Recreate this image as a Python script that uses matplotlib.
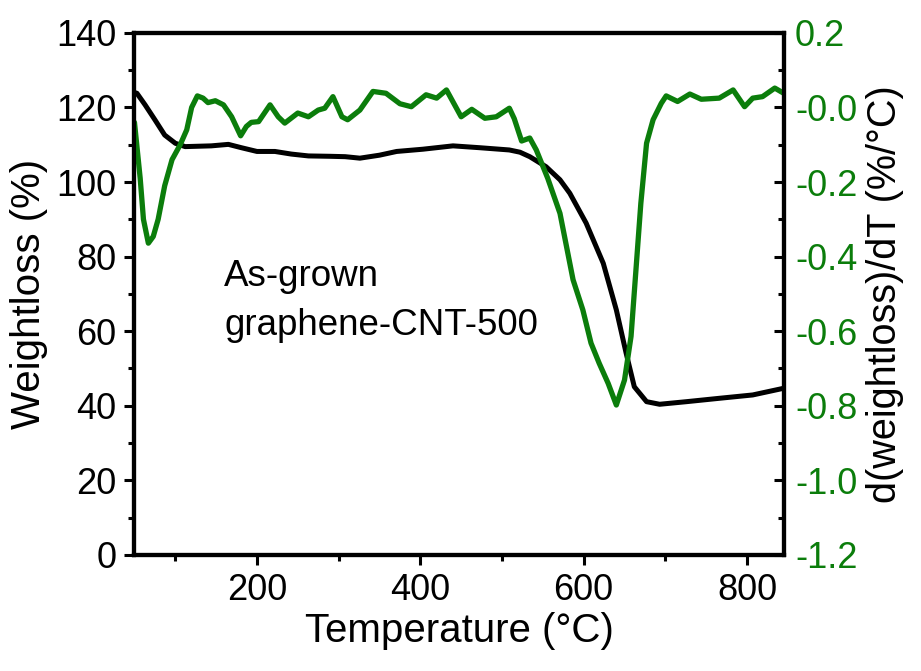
import numpy as np
import matplotlib
matplotlib.use('Agg')
import matplotlib.pyplot as plt
from matplotlib.ticker import MultipleLocator

plt.rcParams['font.family'] = ['Liberation Sans', 'DejaVu Sans']
plt.rcParams['axes.unicode_minus'] = False

# weight loss curve (left axis)
temp_w = [50, 53, 63, 75, 87, 100, 112, 144, 165, 181, 200, 222, 242, 263, 290, 308, 326,
          350, 371, 403, 440, 473, 509, 522, 534, 554, 571, 583, 603, 624, 640, 652, 662,
          677, 693, 726, 766, 807, 845]
weight = [124, 123.8, 120.7, 116.7, 112.6, 110.4, 109.5, 109.7, 110.1, 109.2, 108.2, 108.2,
          107.5, 107.0, 106.9, 106.8, 106.4, 107.2, 108.2, 108.8, 109.7, 109.2, 108.6, 108.0,
          106.8, 104.1, 100.6, 97, 89, 78.2, 65.7, 54.1, 45.1, 41.1, 40.4, 41.1, 42.0, 42.9, 44.7]

# derivative curve (right axis)
temp_d = [50, 57, 61, 67, 73, 79, 87, 96, 106, 114, 120, 127, 134, 140, 149, 159, 169, 180,
          187, 193, 202, 216, 226, 234, 250, 263, 275, 283, 293, 304, 311, 326, 342, 358, 375,
          389, 407, 420, 432, 450, 463, 479, 493, 509, 515, 524, 534, 542, 556, 571, 579, 587,
          599, 609, 619, 630, 640, 650, 658, 664, 670, 677, 685, 695, 701, 715, 730, 744, 766,
          783, 797, 807, 819, 834, 845]
deriv = [-0.04, -0.19, -0.30, -0.364, -0.346, -0.30, -0.21, -0.14, -0.10, -0.06, 0.0, 0.031,
         0.025, 0.013, 0.018, 0.007, -0.025, -0.076, -0.051, -0.04, -0.038, 0.007, -0.025,
         -0.042, -0.015, -0.025, -0.007, -0.002, 0.029, -0.025, -0.033, -0.007, 0.043, 0.038,
         0.010, 0.002, 0.034, 0.025, 0.047, -0.025, -0.005, -0.029, -0.025, -0.002, -0.03,
         -0.09, -0.082, -0.114, -0.19, -0.284, -0.373, -0.462, -0.543, -0.632, -0.686, -0.74,
         -0.798, -0.731, -0.614, -0.436, -0.257, -0.096, -0.033, 0.011, 0.031, 0.016, 0.036,
         0.022, 0.025, 0.047, 0.002, 0.025, 0.029, 0.052, 0.038]

green = '#0b7d0b'

fig = plt.figure(figsize=(9.21, 6.71), dpi=100)
ax = fig.add_axes([0.146, 0.173, 0.705, 0.778])
ax2 = ax.twinx()

ax.plot(temp_w, weight, color='black', lw=3.6, solid_joinstyle='round', solid_capstyle='round')
ax2.plot(temp_d, deriv, color=green, lw=3.8, solid_joinstyle='round', solid_capstyle='round')

ax.set_xlim(50, 845)
ax.set_ylim(0, 140)
ax2.set_ylim(-1.2, 0.2)

ax.xaxis.set_major_locator(MultipleLocator(200))
ax.xaxis.set_minor_locator(MultipleLocator(100))
ax.yaxis.set_major_locator(MultipleLocator(20))
ax.yaxis.set_minor_locator(MultipleLocator(10))
ax2.yaxis.set_minor_locator(MultipleLocator(0.1))
ax2.set_yticks(np.arange(-1.2, 0.21, 0.2))
ax2.set_yticklabels(['%.1f' % v for v in np.arange(-1.2, 0.21, 0.2)])

for a in (ax, ax2):
    for s in a.spines.values():
        s.set_linewidth(3)

ax.tick_params(which='both', direction='out', width=2.2, labelsize=26, top=False, right=False)
ax.tick_params(which='major', length=7, pad=6)
ax.tick_params(which='minor', length=4)
ax2.tick_params(which='both', direction='in', width=2.2, labelsize=26, labelcolor=green)
ax2.tick_params(which='major', length=7, pad=8)
ax2.tick_params(which='minor', length=4.5)

ax.set_xlabel('Temperature (°C)', fontsize=29, labelpad=3)
ax.set_ylabel('Weightloss (%)', fontsize=29, labelpad=6)
ax2.set_ylabel('d(weightloss)/dT (%/°C)', fontsize=28.5, labelpad=6)

ax.text(160, 72, 'As-grown', fontsize=26.5)
ax.text(160, 59, 'graphene-CNT-500', fontsize=26.5)

fig.savefig('out.png', dpi=100)
